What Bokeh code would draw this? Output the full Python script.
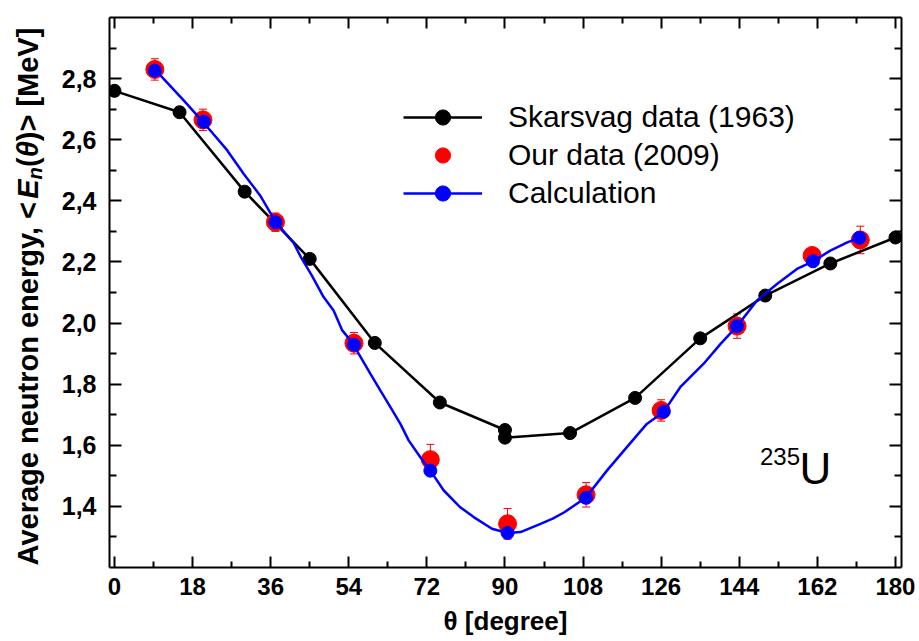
import math
from bokeh.plotting import figure
from bokeh.layouts import row
from bokeh.models import (LinearAxis, FixedTicker, Range1d, ColumnDataSource, Whisker,
                          TeeHead, Legend, LegendItem, Label)
from bokeh.embed import file_html
from bokeh.resources import INLINE

# ---------------- data ----------------
skarsvag_angle = [0, 15, 30, 45, 60, 75, 90, 90, 105, 120, 135, 150, 165, 180]
skarsvag_energy = [2.76, 2.69, 2.43, 2.21, 1.935, 1.74, 1.65, 1.625, 1.64, 1.755, 1.95, 2.09, 2.195, 2.28]

our_angle = [9.3, 20.4, 37.1, 55.2, 72.8, 90.6, 108.7, 126.0, 143.5, 160.8, 171.9]
our_energy = [2.83, 2.665, 2.33, 1.934, 1.553, 1.343, 1.438, 1.714, 1.99, 2.221, 2.272]
our_error = [0.035, 0.035, 0.03, 0.035, 0.05, 0.05, 0.04, 0.035, 0.04, 0.02, 0.045]

calc_marker_angle = [9.3, 20.6, 37.1, 55.2, 72.8, 90.6, 108.7, 126.6, 143.5, 161.0, 171.7]
calc_marker_energy = [2.826, 2.659, 2.33, 1.929, 1.517, 1.313, 1.428, 1.710, 1.99, 2.202, 2.279]

calc_curve_angle = [9.3, 16.0, 19.1, 22.1, 26.0, 29.8, 33.6, 37.1, 41.3, 43.0, 45.5, 48.2,
                    50.5, 52.5, 55.2, 56.3, 59.0, 61.3, 63.6, 65.9, 67.8, 70.5, 72.8, 75.9,
                    79.7, 82.8, 87.0, 90.6, 93.6, 98.2, 101.0, 103.6, 108.6, 113.5, 118.1,
                    122.7, 126.6, 130.4, 135.8, 139.7, 143.5, 148.1, 152.7, 157.3, 161.0,
                    165.0, 168.9, 171.7]
calc_curve_energy = [2.83, 2.728, 2.679, 2.630, 2.565, 2.488, 2.417, 2.332, 2.262, 2.215, 2.155,
                     2.085, 2.041, 1.976, 1.929, 1.899, 1.834, 1.779, 1.725, 1.670, 1.616, 1.561,
                     1.517, 1.452, 1.397, 1.365, 1.327, 1.313, 1.316, 1.343, 1.360, 1.380, 1.428,
                     1.517, 1.594, 1.670, 1.710, 1.790, 1.867, 1.932, 1.990, 2.074, 2.128, 2.177,
                     2.202, 2.237, 2.264, 2.279]

x_ticks = [0, 18, 36, 54, 72, 90, 108, 126, 144, 162, 180]
x_tick_labels = ["0", "18", "36", "54", "72", "90", "108", "126", "144", "162", "180"]
x_minor = [9, 27, 45, 63, 81, 99, 117, 135, 153, 171]
y_ticks = [1.4, 1.6, 1.8, 2.0, 2.2, 2.4, 2.6, 2.8]
y_tick_labels = ["1,4", "1,6", "1,8", "2,0", "2,2", "2,4", "2,6", "2,8"]
y_minor = [1.3, 1.5, 1.7, 1.9, 2.1, 2.3, 2.5, 2.7, 2.9]

y_title_parts = ["Average neutron energy, <", "E", "n", "(", "θ", ")>  [MeV]"]

FONT = "Liberation Sans"
TITLE_W = 52          # width of the strip that holds the y-axis title
W, H = 919, 641
FRAME_TOP, FRAME_BOTTOM = 17, 567   # canvas rows of the plot frame

# ---------------- main figure ----------------
p = figure(width=W - TITLE_W, height=H, output_backend="svg", toolbar_location=None,
           x_range=Range1d(-1.15, 181.4), y_range=Range1d(1.2, 3.0),
           min_border_left=109 - TITLE_W, min_border_right=18, min_border_top=FRAME_TOP,
           min_border_bottom=H - FRAME_BOTTOM,
           outline_line_color=None, background_fill_color="white", border_fill_color="white")
p.xgrid.visible = False
p.ygrid.visible = False


def style_axis(ax, ticks, minor, major_len, minor_len):
    ax.ticker = FixedTicker(ticks=ticks, minor_ticks=minor)
    ax.axis_line_width = 2
    ax.axis_line_color = "black"
    ax.major_tick_in = major_len
    ax.major_tick_out = 0
    ax.minor_tick_in = minor_len
    ax.minor_tick_out = 0
    ax.major_tick_line_width = 2
    ax.minor_tick_line_width = 2
    ax.major_tick_line_color = "black"
    ax.minor_tick_line_color = "black"


xa = p.xaxis[0]
style_axis(xa, x_ticks, x_minor, 11, 6)
xa.major_label_overrides = dict(zip(x_ticks, x_tick_labels))
xa.major_label_text_font = FONT
xa.major_label_text_font_style = "bold"
xa.major_label_text_font_size = "24px"
xa.major_label_text_color = "black"
xa.major_label_standoff = 10
xa.axis_label = "θ [degree]"
xa.axis_label_text_font = FONT
xa.axis_label_text_font_style = "bold"
xa.axis_label_text_font_size = "26px"
xa.axis_label_text_color = "black"
xa.axis_label_standoff = 8

ya = p.yaxis[0]
style_axis(ya, y_ticks, y_minor, 12, 7)
ya.major_label_overrides = dict(zip(y_ticks, y_tick_labels))
ya.major_label_text_font = FONT
ya.major_label_text_font_style = "bold"
ya.major_label_text_font_size = "25px"
ya.major_label_text_color = "black"
ya.major_label_standoff = 13

top = LinearAxis()
style_axis(top, x_ticks, x_minor, 11, 6)
top.major_label_text_font_size = "1px"
top.major_label_text_color = None
top.major_label_standoff = 0
p.add_layout(top, "above")

right = LinearAxis()
style_axis(right, y_ticks, y_minor, 12, 7)
right.major_label_text_font_size = "1px"
right.major_label_text_color = None
right.major_label_standoff = 0
p.add_layout(right, "right")

# ---------------- glyphs ----------------
sk = ColumnDataSource(dict(x=skarsvag_angle, y=skarsvag_energy))
bl = p.line("x", "y", source=sk, line_color="black", line_width=2.5)
bs = p.scatter("x", "y", source=sk, size=13, fill_color="black", line_color="black")

our_upper = [e + d for e, d in zip(our_energy, our_error)]
our_lower = [e - d for e, d in zip(our_energy, our_error)]
od = ColumnDataSource(dict(x=our_angle, y=our_energy, upper=our_upper, lower=our_lower))
wh = Whisker(source=od, base="x", upper="upper", lower="lower", dimension="height",
             line_color="red", line_width=1,
             upper_head=TeeHead(size=8, line_color="red", line_width=1),
             lower_head=TeeHead(size=8, line_color="red", line_width=1))
p.add_layout(wh)
rs = p.scatter("x", "y", source=od, size=18, fill_color="red", line_color="red")

cc = ColumnDataSource(dict(x=calc_curve_angle, y=calc_curve_energy))
cl = p.line("x", "y", source=cc, line_color="blue", line_width=2.5)
cm = ColumnDataSource(dict(x=calc_marker_angle, y=calc_marker_energy))
cs = p.scatter("x", "y", source=cm, size=13, fill_color="blue", line_color="blue")

# ---------------- legend ----------------
legend = Legend(items=[LegendItem(label="Skarsvag data (1963)", renderers=[bl, bs]),
                       LegendItem(label="Our data (2009)", renderers=[rs]),
                       LegendItem(label="Calculation", renderers=[cl, cs])],
                location=(294, 355), orientation="vertical",
                glyph_width=79, glyph_height=38, label_height=38, label_width=10,
                spacing=0, padding=0, margin=0, label_standoff=26,
                label_text_font=FONT, label_text_font_size="30px",
                label_text_color="black", label_text_baseline="middle",
                border_line_color=None, background_fill_alpha=0)
p.add_layout(legend)

# ---------------- isotope label ----------------
p.add_layout(Label(x=158.0, y=1.534, text="235", text_align="right",
                   text_font=FONT, text_font_size="24px", text_color="black"))
p.add_layout(Label(x=157.9, y=1.445, text="U", text_align="left",
                   text_font=FONT, text_font_size="44px", text_color="black"))

# ---------------- y axis title strip (rich text composed of pieces) ----------------
# The strip's frame is aligned with the main frame by the row layout, so its y range
# is chosen so that one data unit equals one canvas pixel counted from the bottom.
t = figure(width=TITLE_W, height=H, output_backend="svg", toolbar_location=None,
           x_range=Range1d(0, TITLE_W), y_range=Range1d(H - FRAME_BOTTOM, H - FRAME_TOP),
           min_border=0, min_border_left=0, min_border_right=0,
           min_border_top=FRAME_TOP, min_border_bottom=H - FRAME_BOTTOM,
           x_axis_location=None, y_axis_location=None,
           outline_line_color=None, background_fill_color="white", border_fill_color="white")
t.grid.visible = False

F = 29
sub = 0.7
styles = ["bold", "bold italic", "bold italic", "bold", "bold italic", "bold"]
scales = [1.0, 1.0, sub, 1.0, 1.0, 1.0]
ems = [12.644, 0.667, 0.611 * sub, 0.333, 0.556, 4.195]   # Arial-bold advance widths
shifts = [0, 0, 7, 0, 0, 0]                              # subscript drop
total = F * sum(ems)
center_canvas = 292
ystart = H - (center_canvas + total / 2)   # distance from canvas bottom where text starts
center_x = 27
for text, style, scale, em, dx in zip(y_title_parts, styles, scales, ems, shifts):
    t.add_layout(Label(x=center_x + dx, y=ystart,
                       text=text, angle=math.pi / 2, text_align="left",
                       text_baseline="middle", text_font=FONT,
                       text_font_style=style, text_font_size=f"{F * scale:.1f}px",
                       text_color="black"))
    ystart += F * em

layout = row(t, p, spacing=0)
open("out.html", "w").write(file_html(layout, INLINE))
